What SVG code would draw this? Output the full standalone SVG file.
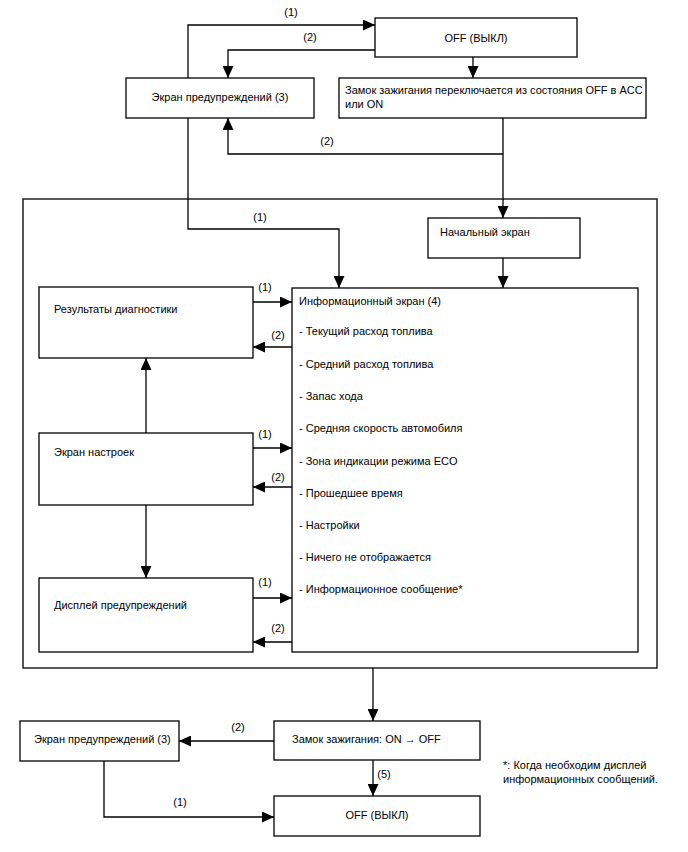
<svg xmlns="http://www.w3.org/2000/svg" width="688" height="852" viewBox="0 0 688 852">
<defs>
<marker id="ah" viewBox="0 0 12 11" markerWidth="12" markerHeight="11" refX="12" refY="5.5" orient="auto" markerUnits="userSpaceOnUse">
<path d="M0,0 L12,5.5 L0,11 z" fill="#000"/>
</marker>
</defs>
<style>
rect{fill:#fff;stroke:#000;stroke-width:1.3}
text{font-family:"Liberation Sans",Arial,sans-serif;font-size:11px;fill:#000}
.c{text-anchor:middle}
#connectors path{fill:none;stroke:#000;stroke-width:1.3}
.a{marker-end:url(#ah)}
</style>
<rect id="frame" x="23" y="199" width="634" height="469" style="fill:none"/>
<g id="connectors">
<path class="a" d="M188,118 V25 H375"/>
<path class="a" d="M375,50 H228 V78"/>
<path class="a" d="M473,57 V78"/>
<path class="a" d="M503,154 H228 V118"/>
<path class="a" d="M503,118 V218"/>
<path class="a" d="M188,118 V229 H339 V288"/>
<path class="a" d="M503,258 V288"/>
<path class="a" d="M253,302 H292"/>
<path class="a" d="M292,347 H253"/>
<path class="a" d="M146,433 V358"/>
<path class="a" d="M253,448 H292"/>
<path class="a" d="M292,487 H253"/>
<path class="a" d="M146,505 V578"/>
<path class="a" d="M253,598 H292"/>
<path class="a" d="M292,642 H253"/>
<path class="a" d="M373,668 V721"/>
<path class="a" d="M274,741 H179"/>
<path class="a" d="M373,760 V796"/>
<path class="a" d="M104,761 V817 H274"/>
<text x="291" y="16" class="c">(1)</text>
<text x="310" y="41" class="c">(2)</text>
<text x="327" y="145" class="c">(2)</text>
<text x="260" y="221" class="c">(1)</text>
<text x="265" y="291" class="c">(1)</text>
<text x="278" y="339" class="c">(2)</text>
<text x="265" y="438" class="c">(1)</text>
<text x="278" y="481" class="c">(2)</text>
<text x="265" y="586" class="c">(1)</text>
<text x="278" y="632" class="c">(2)</text>
<text x="238" y="731" class="c">(2)</text>
<text x="384" y="778" class="c">(5)</text>
<text x="180" y="806" class="c">(1)</text>
</g>
<g id="off-top"><rect x="375" y="18" width="202" height="39"/><text x="476" y="42" class="c">OFF (ВЫКЛ)</text></g>
<g id="warn-top"><rect x="126" y="78" width="188" height="40"/><text x="220" y="101" class="c">Экран предупреждений (3)</text></g>
<g id="ign-top"><rect x="339" y="78" width="307" height="40"/><text x="345" y="94">Замок зажигания переключается из состояния OFF в ACC</text><text x="345" y="108">или ON</text></g>
<g id="start"><rect x="428" y="218" width="152" height="40"/><text x="440" y="236">Начальный экран</text></g>
<g id="diag"><rect x="39" y="287" width="214" height="71"/><text x="54" y="313">Результаты диагностики</text></g>
<g id="settings"><rect x="39" y="433" width="214" height="72"/><text x="54" y="456">Экран настроек</text></g>
<g id="warndisp"><rect x="39" y="578" width="214" height="74"/><text x="54" y="609">Дисплей предупреждений</text></g>
<g id="info"><rect x="292" y="288" width="346" height="364"/>
<text x="299" y="305">Информационный экран (4)</text>
<text x="299" y="335">- Текущий расход топлива</text>
<text x="299" y="368">- Средний расход топлива</text>
<text x="299" y="400">- Запас хода</text>
<text x="299" y="432">- Средняя скорость автомобиля</text>
<text x="299" y="465">- Зона индикации режима ECO</text>
<text x="299" y="497">- Прошедшее время</text>
<text x="299" y="529">- Настройки</text>
<text x="299" y="561">- Ничего не отображается</text>
<text x="299" y="593">- Информационное сообщение*</text>
</g>
<g id="ign-off"><rect x="274" y="721" width="206" height="39"/><text x="292" y="743">Замок зажигания: ON → OFF</text></g>
<g id="warn-bottom"><rect x="20" y="721" width="159" height="40"/><text x="34" y="743">Экран предупреждений (3)</text></g>
<g id="off-bottom"><rect x="274" y="796" width="206" height="40"/><text x="377" y="819" class="c">OFF (ВЫКЛ)</text></g>
<g id="note"><text x="503" y="769">*: Когда необходим дисплей</text><text x="503" y="783">информационных сообщений.</text></g>
</svg>
